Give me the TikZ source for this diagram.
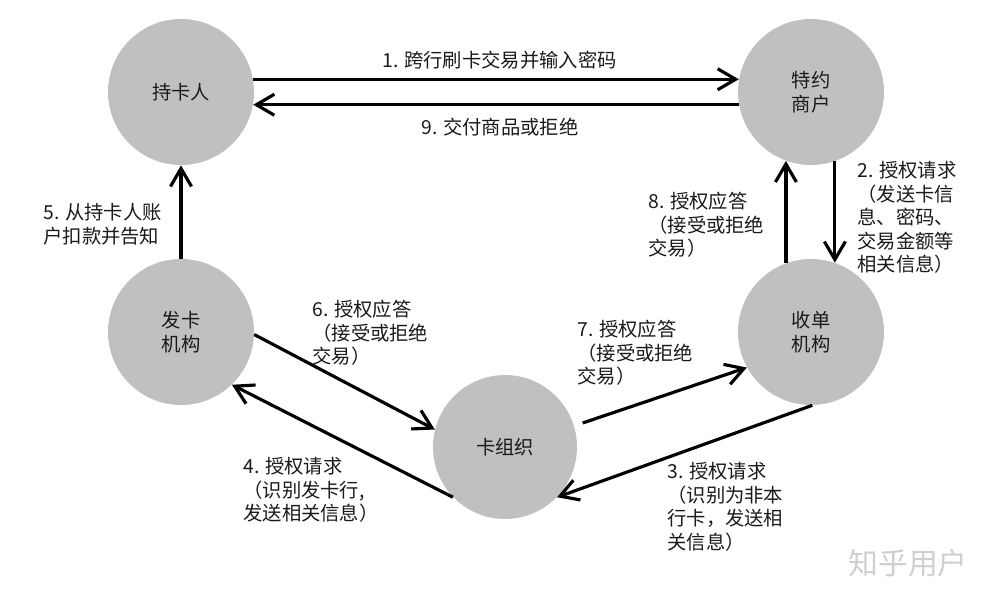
\documentclass[tikz,border=0pt]{standalone}
\usepackage{fontspec}
\newfontfamily\cjk{Noto Sans CJK SC}
\usepackage{xcolor}
\definecolor{partygray}{HTML}{C0C0C0}
\definecolor{inkdark}{HTML}{1A1A1A}
\definecolor{markgray}{HTML}{CFCFCF}
\usepackage{tikz}
\usetikzlibrary{arrows.meta}
\tikzset{
  >={Straight Barb[length=3.6mm, width=4.2mm]},
  every node/.style={font=\cjk\fontsize{11}{13.4}\selectfont, text=inkdark},
  party/.style={
    circle, fill=partygray, minimum size=2.92cm, inner sep=0pt,
    align=center
  },
  flowarrow/.style={->, line width=1.8pt, black},
  notelabel/.style={anchor=north west, inner sep=0pt, align=left},
  watermark/.style={font=\cjk\fontsize{17}{20}\selectfont, text=markgray}
}

\begin{document}
\begin{tikzpicture}[x=0.02cm, y=-0.02cm]
\useasboundingbox (0,0) rectangle (997,599);

% Parties
\node[party] (holder) at (181,92) {持卡人};
\node[party] (merchant) at (811,92) {特约\\商户};
\node[party] (issuer) at (181,332) {发卡\\机构};
\node[party] (acquirer) at (811,332) {收单\\机构};
\node[party, minimum size=2.88cm] (cardorg) at (505,447) {卡组织};

% Top edges
\draw[flowarrow] (holder.10) -- (merchant.170);
\draw[flowarrow] (merchant.190) -- (holder.-10);
\node[notelabel] (l1) at (382,51) {1. 跨行刷卡交易并输入密码};
\node[notelabel] (l9) at (421,118) {9. 交付商品或拒绝};

% Merchant <-> acquirer
\draw[flowarrow] (merchant.-71) -- (acquirer.71);
\draw[flowarrow] (acquirer.110) -- (merchant.-110);
\node[notelabel] (l2) at (857,161)
  {2. 授权请求\\（发送卡信\\息、密码、\\交易金额等\\相关信息）};
\node[notelabel] (l8) at (648,192)
  {8. 授权应答\\（接受或拒绝\\交易）};

% Acquirer <-> card organisation
\draw[flowarrow] (acquirer.-89) -- (cardorg.-44);
\draw[flowarrow, shorten <=0.18cm] (cardorg.17) -- (acquirer.-151);
\node[notelabel] (l3) at (667,462)
  {3. 授权请求\\（识别为非本\\行卡，发送相\\关信息）};
\node[notelabel] (l7) at (577,320)
  {7. 授权应答\\（接受或拒绝\\交易）};

% Card organisation <-> issuer
\draw[flowarrow] (cardorg.-136) -- (issuer.-46);
\draw[flowarrow] (issuer.-2) -- (cardorg.166);
\node[notelabel] (l4) at (243,457)
  {4. 授权请求\\（识别发卡行,\\发送相关信息）};
\node[notelabel] (l6) at (312,300)
  {6. 授权应答\\（接受或拒绝\\交易）};

% Issuer -> cardholder
\draw[flowarrow] (issuer.north) -- (holder.south);
\node[notelabel] (l5) at (43,203) {5. 从持卡人账\\户扣款并告知};

% Watermark
\node[watermark] (mark) at (908,563) {知乎用户};

\end{tikzpicture}
\end{document}
